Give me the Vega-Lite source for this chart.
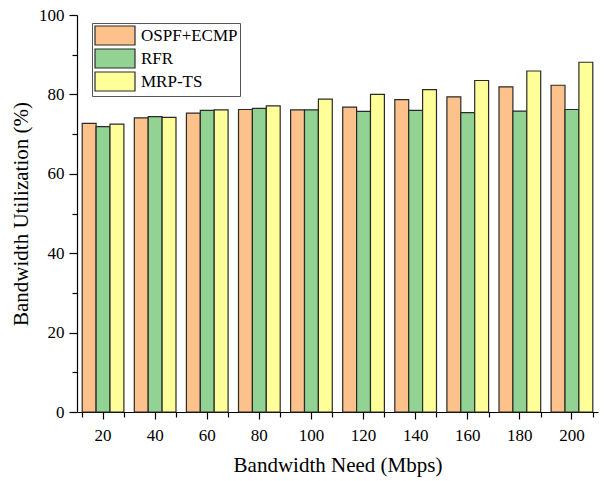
{
  "$schema": "https://vega.github.io/schema/vega-lite/v6.json",
  "width": 521,
  "height": 397,
  "autosize": {"type": "none"},
  "padding": {"left": 77, "top": 15, "right": 10, "bottom": 69},
  "background": "white",
  "config": {
    "view": {"stroke": null},
    "axis": {
      "domainColor": "#000",
      "domainWidth": 1.2,
      "tickColor": "#000",
      "tickWidth": 1.2,
      "labelColor": "#000",
      "labelFont": "Liberation Serif",
      "labelFontSize": 17,
      "titleFont": "Liberation Serif",
      "titleFontSize": 21,
      "titleFontWeight": "normal",
      "titleColor": "#000",
      "grid": false
    }
  },
  "data": {
    "values": [
      {"need": 20, "series": "OSPF+ECMP", "value": 72.7},
      {"need": 20, "series": "RFR", "value": 71.9},
      {"need": 20, "series": "MRP-TS", "value": 72.5},
      {"need": 40, "series": "OSPF+ECMP", "value": 74.1},
      {"need": 40, "series": "RFR", "value": 74.4},
      {"need": 40, "series": "MRP-TS", "value": 74.2},
      {"need": 60, "series": "OSPF+ECMP", "value": 75.3},
      {"need": 60, "series": "RFR", "value": 76.0},
      {"need": 60, "series": "MRP-TS", "value": 76.1},
      {"need": 80, "series": "OSPF+ECMP", "value": 76.2},
      {"need": 80, "series": "RFR", "value": 76.5},
      {"need": 80, "series": "MRP-TS", "value": 77.1},
      {"need": 100, "series": "OSPF+ECMP", "value": 76.1},
      {"need": 100, "series": "RFR", "value": 76.1},
      {"need": 100, "series": "MRP-TS", "value": 78.8},
      {"need": 120, "series": "OSPF+ECMP", "value": 76.8},
      {"need": 120, "series": "RFR", "value": 75.7},
      {"need": 120, "series": "MRP-TS", "value": 80.0},
      {"need": 140, "series": "OSPF+ECMP", "value": 78.7},
      {"need": 140, "series": "RFR", "value": 76.0},
      {"need": 140, "series": "MRP-TS", "value": 81.2},
      {"need": 160, "series": "OSPF+ECMP", "value": 79.4},
      {"need": 160, "series": "RFR", "value": 75.4},
      {"need": 160, "series": "MRP-TS", "value": 83.5},
      {"need": 180, "series": "OSPF+ECMP", "value": 81.9},
      {"need": 180, "series": "RFR", "value": 75.8},
      {"need": 180, "series": "MRP-TS", "value": 85.9},
      {"need": 200, "series": "OSPF+ECMP", "value": 82.3},
      {"need": 200, "series": "RFR", "value": 76.2},
      {"need": 200, "series": "MRP-TS", "value": 88.1}
    ]
  },
  "resolve": {"axis": {"x": "independent", "y": "independent"}},
  "layer": [
    {
      "mark": {"type": "bar", "stroke": "#2a2a2a", "strokeWidth": 1.2},
      "encoding": {
        "x": {
          "field": "need",
          "type": "ordinal",
          "sort": "ascending",
          "scale": {"paddingInner": 0.2, "paddingOuter": 0.1},
          "axis": {
            "orient": "bottom",
            "title": "Bandwidth Need (Mbps)",
            "labelAngle": 0,
            "tickSize": 7,
            "labelPadding": 8,
            "titlePadding": 11
          }
        },
        "xOffset": {
          "field": "series",
          "type": "nominal",
          "sort": ["OSPF+ECMP", "RFR", "MRP-TS"],
          "scale": {"paddingInner": 0, "paddingOuter": 0}
        },
        "y": {
          "field": "value",
          "type": "quantitative",
          "scale": {"domain": [0, 100], "nice": false},
          "axis": {
            "orient": "left",
            "title": "Bandwidth Utilization (%)",
            "values": [0, 20, 40, 60, 80, 100],
            "tickSize": 8,
            "labelPadding": 5,
            "titlePadding": 7
          }
        },
        "color": {
          "field": "series",
          "type": "nominal",
          "sort": ["OSPF+ECMP", "RFR", "MRP-TS"],
          "scale": {
            "domain": ["OSPF+ECMP", "RFR", "MRP-TS"],
            "range": ["#FDC18C", "#92D293", "#FFFF9A"]
          },
          "legend": {
            "title": null,
            "orient": "none",
            "legendX": 15,
            "legendY": 8,
            "symbolType": "M-1,-1H3.21V1H-1Z",
            "symbolSize": 361,
            "symbolStrokeColor": "#2a2a2a",
            "symbolStrokeWidth": 1.2,
            "symbolOpacity": 1,
            "labelFont": "Liberation Serif",
            "labelFontSize": 17,
            "labelColor": "#000",
            "labelOffset": 26,
            "rowPadding": -3,
            "fillColor": "white",
            "strokeColor": "#555",
            "padding": 2
          }
        }
      }
    },
    {
      "mark": {"type": "tick", "opacity": 0},
      "encoding": {
        "x": {
          "field": "need",
          "type": "ordinal",
          "sort": "ascending",
          "axis": {
            "orient": "bottom",
            "title": null,
            "labels": false,
            "domain": false,
            "tickBand": "extent",
            "tickSize": 5
          }
        },
        "y": {
          "field": "value",
          "type": "quantitative",
          "axis": {
            "orient": "left",
            "title": null,
            "labels": false,
            "domain": false,
            "values": [10, 30, 50, 70, 90],
            "tickSize": 5
          }
        }
      }
    }
  ]
}
